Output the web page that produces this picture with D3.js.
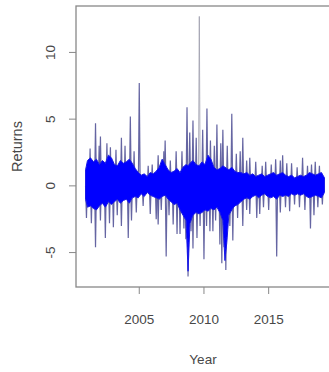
<!DOCTYPE html>
<meta charset="utf-8">
<script src="https://cdn.jsdelivr.net/npm/d3@7"></script>
<style>
body { margin: 0; background: #fff; }
svg { display: block; }
svg text { font-family: "Liberation Sans", Arial, sans-serif; fill: #484848; }
</style>
<svg id="chart" width="329" height="372">
  <defs>
    <filter id="soft" x="-5%" y="-5%" width="110%" height="110%">
      <feGaussianBlur stdDeviation="0.55" />
    </filter>
  </defs>
</svg>
<script>

// dense core of the daily returns (upper / lower envelope)
var coreYears = [2000.85, 2001.0, 2001.23, 2001.46, 2001.69, 2001.92, 2002.15, 2002.38, 2002.62, 2002.85,
  2003.08, 2003.31, 2003.54, 2003.77, 2004.0, 2004.23, 2004.46, 2004.69, 2004.92, 2005.15,
  2005.38, 2005.62, 2005.85, 2006.08, 2006.31, 2006.54, 2006.77, 2007.0, 2007.23, 2007.46,
  2007.69, 2007.92, 2008.15, 2008.38, 2008.62, 2008.77, 2008.92, 2009.15, 2009.38, 2009.62,
  2009.85, 2010.08, 2010.31, 2010.54, 2010.77, 2011.0, 2011.23, 2011.46, 2011.62, 2011.77,
  2011.92, 2012.15, 2012.38, 2012.62, 2012.85, 2013.08, 2013.31, 2013.54, 2013.77, 2014.0,
  2014.23, 2014.46, 2014.69, 2014.92, 2015.15, 2015.38, 2015.62, 2015.85, 2016.08, 2016.31,
  2016.54, 2016.77, 2017.0, 2017.23, 2017.46, 2017.69, 2017.92, 2018.15, 2018.38, 2018.62,
  2018.85, 2019.08, 2019.31];
var coreHigh = [1.2, 1.9, 2.1, 1.8, 2.0, 1.6, 1.9, 1.7, 2.3, 2.1,
  1.6, 1.5, 1.9, 1.7, 1.8, 2.0, 1.7, 1.3, 1.0, 0.8,
  0.9, 0.7, 1.0, 0.9, 1.1, 1.4, 2.0, 1.6, 1.2, 1.0,
  1.1, 1.3, 1.0, 1.4, 1.6, 1.5, 1.7, 1.9, 1.6, 1.5,
  1.8, 1.6, 2.3, 2.0, 1.4, 1.2, 1.3, 1.5, 1.4, 1.3,
  1.2, 1.4, 1.1, 1.0, 1.0, 0.9, 1.0, 0.8, 0.9, 0.7,
  0.8, 0.9, 0.7, 0.8, 0.9, 1.0, 0.8, 0.9, 1.0, 0.8,
  0.7, 0.8, 0.6, 0.7, 0.8, 0.7, 0.8, 1.0, 0.9, 0.8,
  0.9, 1.0, 0.6];
var coreLow = [-1.0, -1.6, -1.5, -1.7, -1.8, -1.5, -1.3, -1.6, -1.2, -1.4,
  -1.2, -1.0, -1.3, -1.1, -1.0, -1.3, -0.9, -0.8, -0.9, -0.6,
  -0.8, -0.5, -0.7, -0.8, -0.9, -1.0, -0.8, -0.7, -1.0, -1.2,
  -1.4, -1.3, -1.8, -2.2, -2.6, -6.4, -2.8, -2.2, -2.0, -2.1,
  -2.0, -1.8, -1.9, -1.7, -1.8, -1.6, -2.0, -2.6, -5.6, -4.2,
  -2.2, -1.8, -1.5, -1.4, -1.2, -1.0, -0.9, -1.0, -0.8, -0.7,
  -0.9, -0.7, -0.6, -0.8, -0.9, -0.8, -1.0, -0.7, -0.8, -0.7,
  -0.8, -0.6, -0.7, -0.6, -0.7, -0.6, -0.8, -0.9, -0.8, -0.7,
  -0.8, -0.9, -0.5];

// isolated daily extremes (large ones, then smaller ones)
var upYears = [2001.62, 2002.0, 2002.77, 2003.62, 2004.31, 2005.0, 2005.69, 2006.46, 2007.0, 2007.85,
  2008.69, 2009.15, 2009.64, 2010.23, 2011.0, 2011.46, 2012.15, 2013.0, 2013.54, 2014.0,
  2014.77, 2015.54, 2016.08, 2016.77, 2017.62, 2018.31, 2018.92,
  2001.2, 2001.9, 2002.5, 2003.2, 2003.9, 2004.6, 2006.0, 2006.9, 2007.4, 2008.3,
  2008.9, 2009.4, 2009.9, 2010.5, 2010.8, 2011.3, 2011.8, 2012.5, 2012.8, 2013.3,
  2014.5, 2015.2, 2015.9, 2016.4, 2017.2, 2018.0, 2018.6];
var upValues = [4.7, 3.7, 2.9, 3.6, 5.2, 7.7, 1.5, 2.3, 3.4, 2.6,
  5.9, 4.9, 12.7, 5.8, 4.6, 4.2, 5.4, 3.6, 2.1, 1.8,
  1.8, 2.0, 2.3, 1.7, 2.1, 1.6, 1.5,
  2.8, 3.0, 3.2, 2.7, 3.0, 2.6, 1.6, 2.6, 1.9, 2.6,
  4.0, 3.6, 4.2, 3.4, 3.0, 3.2, 3.0, 2.4, 2.6, 1.9,
  1.5, 1.6, 1.9, 1.7, 1.4, 1.5, 1.8];
var downYears = [2000.92, 2001.62, 2002.38, 2003.0, 2003.62, 2004.15, 2004.77, 2005.85, 2006.31, 2006.46,
  2007.08, 2007.62, 2007.92, 2008.15, 2008.77, 2009.15, 2009.46, 2010.0, 2010.46, 2010.69,
  2011.23, 2011.38, 2011.69, 2012.23, 2013.0, 2013.54, 2014.08, 2014.31, 2015.62, 2016.62,
  2017.38, 2018.23, 2019.15,
  2001.3, 2002.0, 2002.7, 2003.3, 2004.4, 2005.3, 2006.7, 2007.3, 2008.45, 2008.6,
  2009.0, 2009.7, 2010.2, 2010.9, 2011.55, 2012.0, 2012.6, 2013.3, 2014.6, 2015.0,
  2015.9, 2016.3, 2017.0, 2017.8, 2018.5, 2018.8];
var downValues = [-2.4, -4.6, -3.9, -3.1, -3.0, -3.9, -2.0, -2.1, -2.5, -2.9,
  -5.3, -2.9, -3.6, -3.6, -6.8, -4.7, -3.9, -5.5, -3.4, -3.4,
  -4.4, -5.8, -6.3, -4.1, -3.0, -2.1, -2.4, -2.1, -5.3, -1.9,
  -1.6, -3.2, -1.4,
  -2.8, -2.6, -2.8, -2.2, -2.6, -1.5, -1.8, -2.2, -3.2, -4.0,
  -3.4, -3.0, -3.0, -2.6, -4.6, -3.0, -2.4, -1.8, -1.6, -1.8,
  -2.0, -1.6, -1.4, -1.8, -2.2, -1.6];

var xTicks = [2005, 2010, 2015];
var yTicks = [-5, 0, 5, 10];

var mLeft = 76, mTop = 6, mRight = 334, mBottom = 287;

function padded(ext) {
  var p = (ext[1] - ext[0]) * 0.04;
  return [ext[0] - p, ext[1] + p];
}

var allYears = coreYears.concat(upYears, downYears);
var allValues = coreLow.concat(coreHigh, upValues, downValues);

var x = d3.scaleLinear().domain(padded(d3.extent(allYears))).range([mLeft, mRight]);
var y = d3.scaleLinear().domain(padded(d3.extent(allValues))).range([mBottom, mTop]);

var svg = d3.select("#chart");
var plot = svg.append("g").attr("filter", "url(#soft)");

// spikes
var spikes = upYears.map(function(d, i) { return {year: d, v: upValues[i]}; })
  .concat(downYears.map(function(d, i) { return {year: d, v: downValues[i]}; }));

plot.selectAll(".spike").data(spikes).enter()
  .append("path")
  .attr("class", "spike")
  .attr("d", function(d) {
    var x0 = x(d.year);
    return "M" + (x0 - 0.9) + "," + y(0) + "L" + x0 + "," + y(d.v) + "L" + (x0 + 0.9) + "," + y(0);
  })
  .attr("fill", "none")
  .attr("stroke", function(d) { return d.v > 10 ? "#9a9aaa" : "#4a4a92"; })
  .attr("stroke-width", function(d) { return d.v > 10 ? 0.9 : 1.2; })
  .attr("stroke-opacity", 0.85);

// core band
var core = coreYears.map(function(d, i) { return {year: d, hi: coreHigh[i], lo: coreLow[i]}; });

plot.append("path")
  .datum(core)
  .attr("d", d3.area()
    .x(function(d) { return x(d.year); })
    .y0(function(d) { return y(d.lo); })
    .y1(function(d) { return y(d.hi); }))
  .attr("fill", "#0000ff")
  .attr("stroke", "#1a1ae6")
  .attr("stroke-width", 1);

// box
svg.append("rect")
  .attr("x", mLeft).attr("y", mTop)
  .attr("width", mRight - mLeft).attr("height", mBottom - mTop)
  .attr("fill", "none")
  .attr("stroke", "#888")
  .attr("stroke-width", 1.3);

// x axis
var xg = svg.append("g");
xg.selectAll("line").data(xTicks).enter().append("line")
  .attr("x1", function(d) { return x(d); }).attr("x2", function(d) { return x(d); })
  .attr("y1", mBottom).attr("y2", mBottom + 7)
  .attr("stroke", "#888");
xg.selectAll("text").data(xTicks).enter().append("text")
  .attr("x", function(d) { return x(d); })
  .attr("y", 324)
  .attr("text-anchor", "middle")
  .attr("font-size", 13.5)
  .text(function(d) { return d; });

// y axis
var yg = svg.append("g");
yg.selectAll("line").data(yTicks).enter().append("line")
  .attr("x1", mLeft - 7).attr("x2", mLeft)
  .attr("y1", function(d) { return y(d); }).attr("y2", function(d) { return y(d); })
  .attr("stroke", "#888");
yg.selectAll("text").data(yTicks).enter().append("text")
  .attr("transform", function(d) { return "translate(55," + y(d) + ") rotate(-90)"; })
  .attr("text-anchor", "middle")
  .attr("font-size", 13.5)
  .text(function(d) { return d; });

svg.append("text")
  .attr("x", (mLeft + mRight) / 2 - 2)
  .attr("y", 364)
  .attr("text-anchor", "middle")
  .attr("font-size", 13.5)
  .text("Year");

svg.append("text")
  .attr("transform", "translate(22," + ((mTop + mBottom) / 2) + ") rotate(-90)")
  .attr("text-anchor", "middle")
  .attr("font-size", 14.5)
  .text("Returns");

</script>
